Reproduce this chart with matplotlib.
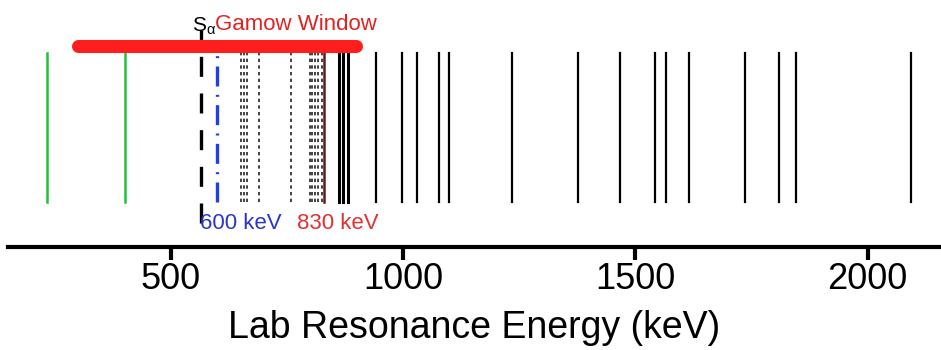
import matplotlib.pyplot as plt
import numpy as np

plt.rcParams['font.family'] = ['Liberation Sans', 'DejaVu Sans']
plt.rcParams['mathtext.fontset'] = 'custom'
plt.rcParams['mathtext.rm'] = 'Liberation Sans'
plt.rcParams['mathtext.it'] = 'Liberation Sans'

# -------------------------------------  Resonance energies (keV, lab)  ------------------------------------------
green_res = [233, 402]
gamow_window = [300, 900]
s_alpha = 565
blue_res = 600
red_res = 830
dotted_res = [651, 658, 664, 690, 759, 799, 805, 811, 817, 826]
thick_res = [862, 871, 882]
black_res = [941, 999, 1030, 1078, 1099, 1234, 1377, 1467, 1543, 1566,
             1615, 1736, 1810, 1847, 2093]
x_ticks = [500, 1000, 1500, 2000]

# -------------------------------------  Figure  ------------------------------------------
fig = plt.figure(figsize=(9.41, 3.5), dpi=100)
ax = fig.add_axes([8 / 941, 103 / 350, 933 / 941, 247 / 350])
ax.set_xlim(150, 2158)
ax.set_ylim(0, 1)

y0, y1 = 0.182, 0.785

for e in green_res:
    ax.axvline(e, y0, y1, color='#22c23a', lw=1.8)

for e in dotted_res:
    ax.axvline(e, y0, y1, color='#222222', lw=1.2, linestyle=(0, (2, 2)))

ax.axvline(red_res, y0, y1, color='#5a1c1c', lw=1.8)

for e in thick_res:
    ax.axvline(e, y0, y1, color='black', lw=2.2)

for e in black_res:
    ax.axvline(e, y0, y1, color='black', lw=1.6)

# threshold and marked resonance
ax.axvline(s_alpha, 0.097, 0.879, color='black', lw=2.4, linestyle=(0, (6, 5)))
ax.axvline(blue_res, y0, y1, color='#1e3ee6', lw=2.4,
           linestyle=(0, (6, 2.5, 0.6, 2.5)))

# Gamow window bar
ax.plot(gamow_window, [0.812, 0.812], color='#ff1e1e', lw=9.4,
        solid_capstyle='round')

# -------------------------------------  Labels  ------------------------------------------
ax.text(s_alpha + 8, 0.895, r'S$_\alpha$', fontsize=15, ha='center', va='center',
        color='black')
ax.text(595, 0.9, 'Gamow Window', fontsize=16, ha='left', va='center',
        color='#e02222')
ax.text(650, 0.095, '600 keV', fontsize=16, ha='center', va='center',
        color='#2a36c8')
ax.text(859, 0.095, '830 keV', fontsize=16, ha='center', va='center',
        color='#e03232')

for side in ['left', 'right', 'top']:
    ax.spines[side].set_visible(False)
ax.spines['bottom'].set_linewidth(3)
ax.set_yticks([])
ax.set_xticks(x_ticks)
ax.tick_params(axis='x', direction='out', length=9, width=3, labelsize=26, pad=2)
ax.set_xlabel('Lab Resonance Energy (keV)', fontsize=27, labelpad=9)

fig.savefig('out.png', dpi=100)
